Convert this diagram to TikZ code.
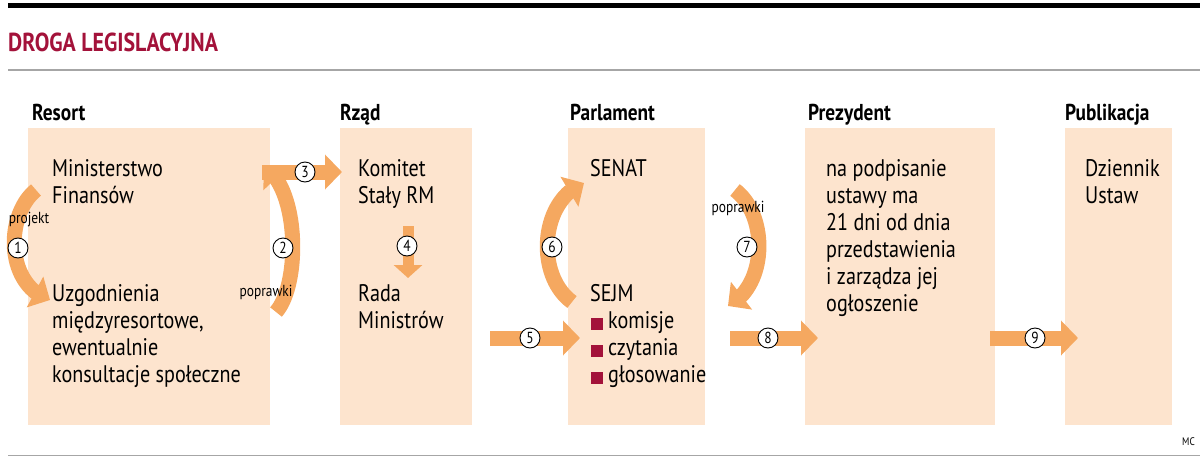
\documentclass[tikz,border=0pt]{standalone}
\usepackage{fontspec}
\setmainfont[FakeStretch=0.84]{PT Sans}
\usetikzlibrary{arrows.meta,bending}
\definecolor{peach}{HTML}{FDE4CE}
\definecolor{org}{HTML}{F5A860}
\definecolor{dred}{HTML}{A3123A}
\tikzset{
 box/.style={fill=peach,draw=none},
 arr/.style={draw=org,line width=15pt,-{Triangle[length=17pt,width=34pt,flex]}},
 num/.style={circle,draw=black,fill=white,line width=0.9pt,inner sep=0pt,minimum size=20pt,font=\fontsize{16}{16}\selectfont},
 txt/.style={anchor=north west,align=left,font=\fontsize{24}{27}\selectfont,inner sep=0pt},
 hdr/.style={anchor=base west,font=\fontsize{23}{24}\selectfont\bfseries,inner sep=0pt},
 small/.style={font=\fontsize{16}{16}\selectfont,inner sep=1pt},
 bul/.style={fill=dred,minimum size=12pt,inner sep=0pt}
}
\begin{document}
\begin{tikzpicture}[x=1pt,y=-1pt]
\useasboundingbox (0,0) rectangle (1200,461);
\fill[black] (8,3) rectangle (1200,8);
\draw[gray!70,line width=1.5pt] (8,70) -- (1200,70);
\draw[gray!70,line width=1pt] (8,455) -- (1200,455);
\node[anchor=base west,inner sep=0pt,text=dred,font=\fontsize{26}{26}\selectfont\bfseries] (title) at (8,51) {DROGA LEGISLACYJNA};
\node[anchor=base east,inner sep=0pt,font=\fontsize{11}{11}\selectfont] (mc) at (1195,445) {MC};
% headers
\node[hdr] (h1) at (32,120) {Resort};
\node[hdr] (h2) at (340,120) {Rząd};
\node[hdr] (h3) at (570,120) {Parlament};
\node[hdr] (h4) at (808,120) {Prezydent};
\node[hdr] (h5) at (1065,120) {Publikacja};
% boxes
\fill[box] (28,128) rectangle (270,425);
\fill[box] (340,128) rectangle (472,425);
\fill[box] (568,128) rectangle (705,425);
\fill[box] (805,128) rectangle (995,425);
\fill[box] (1065,128) rectangle (1172,425);
% texts
\node[txt] (mf) at (52,159) {Ministerstwo\\Finansów};
\node[txt] (uz) at (52,284) {Uzgodnienia\\międzyresortowe,\\ewentualnie\\konsultacje społeczne};
\node[txt] (ks) at (358,159) {Komitet\\Stały RM};
\node[txt] (rm) at (358,284) {Rada\\Ministrów};
\node[txt] (sen) at (590,159) {SENAT};
\node[txt] (sejm) at (590,284) {SEJM};
\node[txt] (b1) at (608,311) {komisje};
\node[txt] (b2) at (608,338) {czytania};
\node[txt] (b3) at (608,365) {głosowanie};
\node[bul] (q1) at (597,324) {};
\node[bul] (q2) at (597,351) {};
\node[bul] (q3) at (597,378) {};
\node[txt] (prez) at (826,159) {na podpisanie\\ustawy ma\\21 dni od dnia\\przedstawienia\\i zarządza jej\\ogłoszenie};
\node[txt] (du) at (1085,159) {Dziennik\\Ustaw};
% coordinates
\coordinate (a1s) at (36,190); \coordinate (a1e) at (50,300);
\coordinate (a2s) at (276,312); \coordinate (a2e) at (264,166);
\coordinate (a3s) at (262,172); \coordinate (a3e) at (342,172);
\coordinate (a4s) at (408,226); \coordinate (a4e) at (408,278);
\coordinate (a5s) at (490,338); \coordinate (a5e) at (580,338);
\coordinate (a6s) at (572,302); \coordinate (a6e) at (584,183);
\coordinate (a7s) at (735,190); \coordinate (a7e) at (728,306);
\coordinate (a8s) at (730,338); \coordinate (a8e) at (818,338);
\coordinate (a9s) at (990,338); \coordinate (a9e) at (1078,338);
\draw[arr] (a1s) .. controls (5,215) and (5,285) .. (a1e);
\draw[arr] (a2s) .. controls (300,285) and (300,190) .. (a2e);
\draw[arr] (a3s) -- (a3e);
\draw[arr,line width=11pt,-{Triangle[length=13pt,width=28pt]}] (a4s) -- (a4e);
\draw[arr] (a5s) -- (a5e);
\draw[arr] (a6s) .. controls (535,275) and (540,200) .. (a6e);
\draw[arr] (a7s) .. controls (768,215) and (768,285) .. (a7e);
\draw[arr] (a8s) -- (a8e);
\draw[arr] (a9s) -- (a9e);
% numbers
\node[num] (n1) at (18,248) {1};
\node[num] (n2) at (283,248) {2};
\node[num] (n3) at (305,172) {3};
\node[num] (n4) at (407,246) {4};
\node[num] (n5) at (530,338) {5};
\node[num] (n6) at (552,247) {6};
\node[num] (n7) at (747,247) {7};
\node[num] (n8) at (768,338) {8};
\node[num] (n9) at (1035,338) {9};
\node[small] (pj) at (29,220) {projekt};
\node[small] (pp1) at (266,292) {poprawki};
\node[small] (pp2) at (738,208) {poprawki};
\end{tikzpicture}
\end{document}
